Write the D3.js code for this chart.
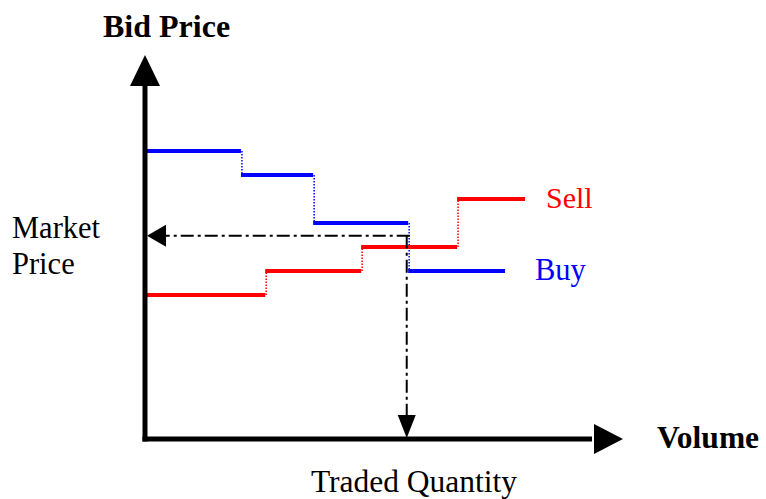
<!DOCTYPE html>
<html>
<head>
<meta charset="utf-8">
<script src="https://cdn.jsdelivr.net/npm/d3@7"></script>
<style>
  body { margin: 0; background: #fff; }
  svg { display: block; }
  text { font-family: "Liberation Serif", "Times New Roman", serif; }
</style>
</head>
<body>
<script>
// step breakpoints (volume) and price levels
const buyVolume = [0, 20.2, 35.4, 55.4, 75.8];
const buyPrice = [75, 68.75, 56.25, 43.75];
const sellVolume = [0, 25.3, 45.5, 65.7, 80];
const sellPrice = [37.5, 43.75, 50, 62.5];
const marketPrice = 52.9;
const tradedQuantity = 55.1;

const W = 766, H = 499;

const svg = d3.select("body").append("svg")
    .attr("width", W)
    .attr("height", H);

const x = d3.scaleLinear().domain([0, 100]).range([145, 620]);
const y = d3.scaleLinear().domain([0, 100]).range([439, 55]);

function steps(vol, price) {
    const h = [], v = [];
    price.forEach(function(p, i) {
        h.push({x0: vol[i], x1: vol[i + 1], y: p});
        if (i > 0) v.push({x: vol[i], y0: price[i - 1], y1: p});
    });
    return {h: h, v: v};
}

function drawSteps(vol, price, color) {
    const s = steps(vol, price);
    svg.append("g").selectAll("line")
        .data(s.v)
        .enter().append("line")
        .attr("x1", d => x(d.x) + 1)
        .attr("x2", d => x(d.x) + 1)
        .attr("y1", d => y(d.y0))
        .attr("y2", d => y(d.y1))
        .attr("stroke", color)
        .attr("stroke-width", 1.5)
        .attr("stroke-dasharray", "1.5,1.5");
    svg.append("g").selectAll("line")
        .data(s.h)
        .enter().append("line")
        .attr("x1", d => x(d.x0))
        .attr("x2", d => x(d.x1))
        .attr("y1", d => y(d.y))
        .attr("y2", d => y(d.y))
        .attr("stroke", color)
        .attr("stroke-width", 4);
}

drawSteps(buyVolume, buyPrice, "#0000ff");
drawSteps(sellVolume, sellPrice, "#ff0000");

// market price / traded quantity guides
const mx = x(tradedQuantity), my = y(marketPrice);
svg.append("line")
    .attr("x1", mx + 3).attr("x2", x(0) + 18)
    .attr("y1", my).attr("y2", my)
    .attr("stroke", "#000").attr("stroke-width", 2)
    .attr("stroke-dasharray", "13,4,3,4");
svg.append("line")
    .attr("x1", mx).attr("x2", mx)
    .attr("y1", my).attr("y2", y(0) - 22)
    .attr("stroke", "#000").attr("stroke-width", 2)
    .attr("stroke-dasharray", "13,4,3,4");
svg.append("path")
    .attr("d", "M" + (x(0) + 2) + "," + my + "L" + (x(0) + 21) + "," + (my - 11) + "L" + (x(0) + 21) + "," + (my + 11) + "Z")
    .attr("fill", "#000");
svg.append("path")
    .attr("d", "M" + mx + "," + (y(0) - 1) + "L" + (mx - 9) + "," + (y(0) - 24) + "L" + (mx + 9) + "," + (y(0) - 24) + "Z")
    .attr("fill", "#000");

// axes with arrow heads
svg.append("line")
    .attr("x1", x(0)).attr("x2", x(0))
    .attr("y1", y(0) + 2.5).attr("y2", y(100) + 30)
    .attr("stroke", "#000").attr("stroke-width", 5);
svg.append("line")
    .attr("x1", x(0) - 2.5).attr("x2", x(100) - 28)
    .attr("y1", y(0)).attr("y2", y(0))
    .attr("stroke", "#000").attr("stroke-width", 5);
svg.append("path")
    .attr("d", "M" + x(0) + "," + y(100) + "L" + (x(0) - 15) + "," + (y(100) + 31) + "L" + (x(0) + 15) + "," + (y(100) + 31) + "Z")
    .attr("fill", "#000");
svg.append("path")
    .attr("d", "M" + (x(100) + 3) + "," + y(0) + "L" + (x(100) - 26) + "," + (y(0) - 15) + "L" + (x(100) - 26) + "," + (y(0) + 15) + "Z")
    .attr("fill", "#000");

// labels
svg.append("text").attr("x", 103).attr("y", 37)
    .attr("font-size", 32).attr("font-weight", "bold").text("Bid Price");
svg.append("text").attr("x", 657).attr("y", 448)
    .attr("font-size", 31.5).attr("font-weight", "bold").text("Volume");
svg.append("text").attr("x", 12).attr("y", 238)
    .attr("font-size", 30.5).text("Market");
svg.append("text").attr("x", 12).attr("y", 274)
    .attr("font-size", 30.5).text("Price");
svg.append("text").attr("x", 414).attr("y", 492)
    .attr("font-size", 31.5).attr("text-anchor", "middle").text("Traded Quantity");
svg.append("text").attr("x", 546).attr("y", 208)
    .attr("font-size", 30).attr("fill", "#ff0000").text("Sell");
svg.append("text").attr("x", 535).attr("y", 280)
    .attr("font-size", 30.5).attr("fill", "#0000ff").text("Buy");
</script>
</body>
</html>
